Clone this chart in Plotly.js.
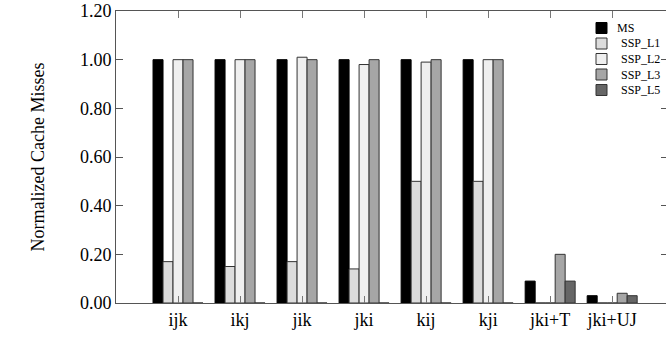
<!DOCTYPE html>
<html>
<head>
<meta charset="utf-8">
<script src="https://cdn.plot.ly/plotly-3.0.1.min.js"></script>
<style>html,body{margin:0;padding:0;overflow:hidden;background:#fff;}</style>
</head>
<body>
<div id="chart" style="width:670px;height:337px;"></div>
<script>
const categories = ["ijk", "ikj", "jik", "jki", "kij", "kji", "jki+T", "jki+UJ"];
const seriesNames = ["MS", "SSP_L1", "SSP_L2", "SSP_L3", "SSP_L5"];
const MS     = [1.00, 1.00, 1.00, 1.00, 1.00, 1.00, 0.09, 0.03];
const SSP_L1 = [0.17, 0.15, 0.17, 0.14, 0.50, 0.50, 0.00, 0.00];
const SSP_L2 = [1.00, 1.00, 1.01, 0.98, 0.99, 1.00, 0.00, 0.00];
const SSP_L3 = [1.00, 1.00, 1.00, 1.00, 1.00, 1.00, 0.20, 0.04];
const SSP_L5 = [0.00, 0.00, 0.00, 0.00, 0.00, 0.00, 0.09, 0.03];
const yTickVals = [0, 0.2, 0.4, 0.6, 0.8, 1.0, 1.2];

const seriesValues = [MS, SSP_L1, SSP_L2, SSP_L3, SSP_L5];
const fills = ["#000000", "#dcdcdc", "#efefef", "#a6a6a6", "#666666"];
const outlines = ["#000000", "#333333", "#333333", "#333333", "#333333"];

const traces = seriesNames.map((name, i) => ({
  type: "bar",
  name: name,
  x: categories.map((c, k) => k),
  y: seriesValues[i],
  marker: { color: fills[i], line: { color: outlines[i], width: 1 } },
  hoverinfo: "none"
}));

const font = "Liberation Serif, Times New Roman, serif";

// plot area in pixels (for the hand-built key)
const plotL = 116, plotR = 668, plotT = 11, plotB = 303;
const px2x = p => (p - plotL) / (plotR - plotL);
const px2y = p => (plotB - p) / (plotB - plotT);

const keyShapes = [];
const keyNotes = [];
seriesNames.forEach((name, i) => {
  const cy = 28 + 15.5 * i;
  keyShapes.push({
    type: "rect", xref: "paper", yref: "paper",
    x0: px2x(596), x1: px2x(607), y0: px2y(cy + 5.5), y1: px2y(cy - 5.5),
    fillcolor: fills[i], line: { color: outlines[i] === "#000000" ? "#000" : "#333", width: 1 }
  });
  keyNotes.push({
    xref: "paper", yref: "paper", x: px2x(i === 0 ? 615 : 619), y: px2y(cy),
    xanchor: "left", yanchor: "middle", showarrow: false,
    text: name, font: { family: font, size: 12, color: "#000" }
  });
});

const layout = {
  width: 670,
  height: 337,
  margin: { l: plotL, r: 670 - plotR, t: plotT, b: 337 - plotB },
  paper_bgcolor: "#fff",
  plot_bgcolor: "#fff",
  font: { family: font, color: "#000", size: 18 },
  barmode: "group",
  bargap: 0.194,
  bargroupgap: 0,
  showlegend: false,
  shapes: keyShapes,
  annotations: keyNotes,
  xaxis: {
    range: [-1, 7.9],
    tickmode: "array",
    tickvals: categories.map((c, k) => k),
    ticktext: categories,
    ticks: "inside",
    ticklen: 7,
    tickcolor: "#777",
    showline: true,
    linecolor: "#555",
    linewidth: 1,
    mirror: "ticks",
    showgrid: false,
    zeroline: false,
    tickfont: { family: font, size: 18, color: "#000" }
  },
  yaxis: {
    range: [0, 1.2],
    tickmode: "array",
    tickvals: yTickVals,
    ticktext: yTickVals.map(v => v.toFixed(2)),
    ticks: "inside",
    ticklen: 7,
    tickcolor: "#555",
    showline: true,
    linecolor: "#555",
    linewidth: 1,
    mirror: "ticks",
    showgrid: false,
    zeroline: false,
    tickfont: { family: font, size: 18, color: "#000" },
    title: { text: "Normalized Cache Misses", font: { family: font, size: 18, color: "#000" }, standoff: 30 }
  }
};

Plotly.newPlot("chart", traces, layout, { displayModeBar: false, staticPlot: true });
</script>
</body>
</html>
